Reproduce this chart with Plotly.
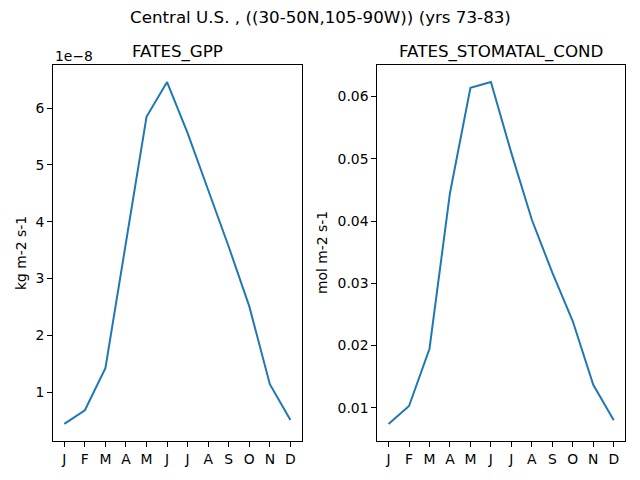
import plotly.graph_objects as go
from plotly.subplots import make_subplots

# monthly climatology, Central U.S. box, yrs 73-83
months = ["J", "F", "M", "A", "M", "J", "J", "A", "S", "O", "N", "D"]
gpp_e8 = [0.44, 0.68, 1.42, 3.63, 5.85, 6.46, 5.56, 4.56, 3.56, 2.51, 1.14, 0.51]  # x 1e-8
stomatal_cond = [0.00743, 0.0103, 0.0195, 0.0445, 0.0614, 0.0623,
                 0.0509, 0.0402, 0.0317, 0.0239, 0.0137, 0.0080]

FONT = "DejaVu Sans"
BLUE = "#1f77b4"
W, H = 640, 480
ML, MR, MT, MB = 53, 15, 65, 39
pw = W - ML - MR
ph = H - MT - MB

fig = make_subplots(rows=1, cols=2)
x = list(range(len(months)))
fig.add_trace(go.Scatter(x=x, y=gpp_e8, mode="lines",
                         line=dict(color=BLUE, width=2)), row=1, col=1)
fig.add_trace(go.Scatter(x=x, y=stomatal_cond, mode="lines",
                         line=dict(color=BLUE, width=2)), row=1, col=2)

left_end = (301.7 - ML) / pw
right_start = (377.3 - ML) / pw

axis_style = dict(showline=True, linecolor="black", linewidth=1, mirror=True,
                  ticks="outside", ticklen=5, tickwidth=1, tickcolor="black",
                  showgrid=False, zeroline=False,
                  tickfont=dict(family=FONT, size=13.9, color="black"))


def padded(vals):
    lo, hi = min(vals), max(vals)
    pad = (hi - lo) * 0.05
    return [lo - pad, hi + pad]


fig.update_xaxes(**axis_style, tickmode="array", tickvals=x, ticktext=months,
                 range=[-0.55, 11.55])
fig.update_layout(xaxis=dict(domain=[0, left_end]),
                  xaxis2=dict(domain=[right_start, 1]))
fig.update_yaxes(**axis_style)
fig.update_yaxes(range=padded(gpp_e8), tickvals=[1, 2, 3, 4, 5, 6], row=1, col=1)
fig.update_yaxes(range=padded(stomatal_cond),
                 tickvals=[0.01, 0.02, 0.03, 0.04, 0.05, 0.06],
                 tickformat=".2f", row=1, col=2)

title_font = dict(family=FONT, size=16.7, color="black")
label_font = dict(family=FONT, size=13.9, color="black")
ann = [
    dict(text="Central U.S. , ((30-50N,105-90W)) (yrs 73-83)", x=0.5 - (ML - MR) / 2 / pw,
         y=(H - MB - 17) / ph, xref="paper", yref="paper", xanchor="center",
         yanchor="middle", showarrow=False, font=title_font),
    dict(text="FATES_GPP", x=left_end / 2, y=1 + 1 / ph, xref="paper", yref="paper",
         xanchor="center", yanchor="bottom", showarrow=False, font=title_font),
    dict(text="FATES_STOMATAL_COND", x=(right_start + 1) / 2, y=1 + 1 / ph,
         xref="paper", yref="paper", xanchor="center", yanchor="bottom",
         showarrow=False, font=title_font),
    dict(text="1e\u22128", x=0, y=1 - 1 / ph, xref="paper", yref="paper",
         xanchor="left", yanchor="bottom", showarrow=False, font=label_font),
    dict(text="kg m-2 s-1", x=(21 - ML) / pw, y=0.5, xref="paper", yref="paper",
         xanchor="center", yanchor="middle", textangle=-90, showarrow=False,
         font=label_font),
    dict(text="mol m-2 s-1", x=(322 - ML) / pw, y=0.5, xref="paper", yref="paper",
         xanchor="center", yanchor="middle", textangle=-90, showarrow=False,
         font=label_font),
]

fig.update_layout(width=W, height=H, margin=dict(l=ML, r=MR, t=MT, b=MB),
                  showlegend=False, plot_bgcolor="white", paper_bgcolor="white",
                  annotations=ann, font=dict(family=FONT))
fig.write_html("out.html", config={"displayModeBar": False},
               post_script="document.body.style.margin='0';")
